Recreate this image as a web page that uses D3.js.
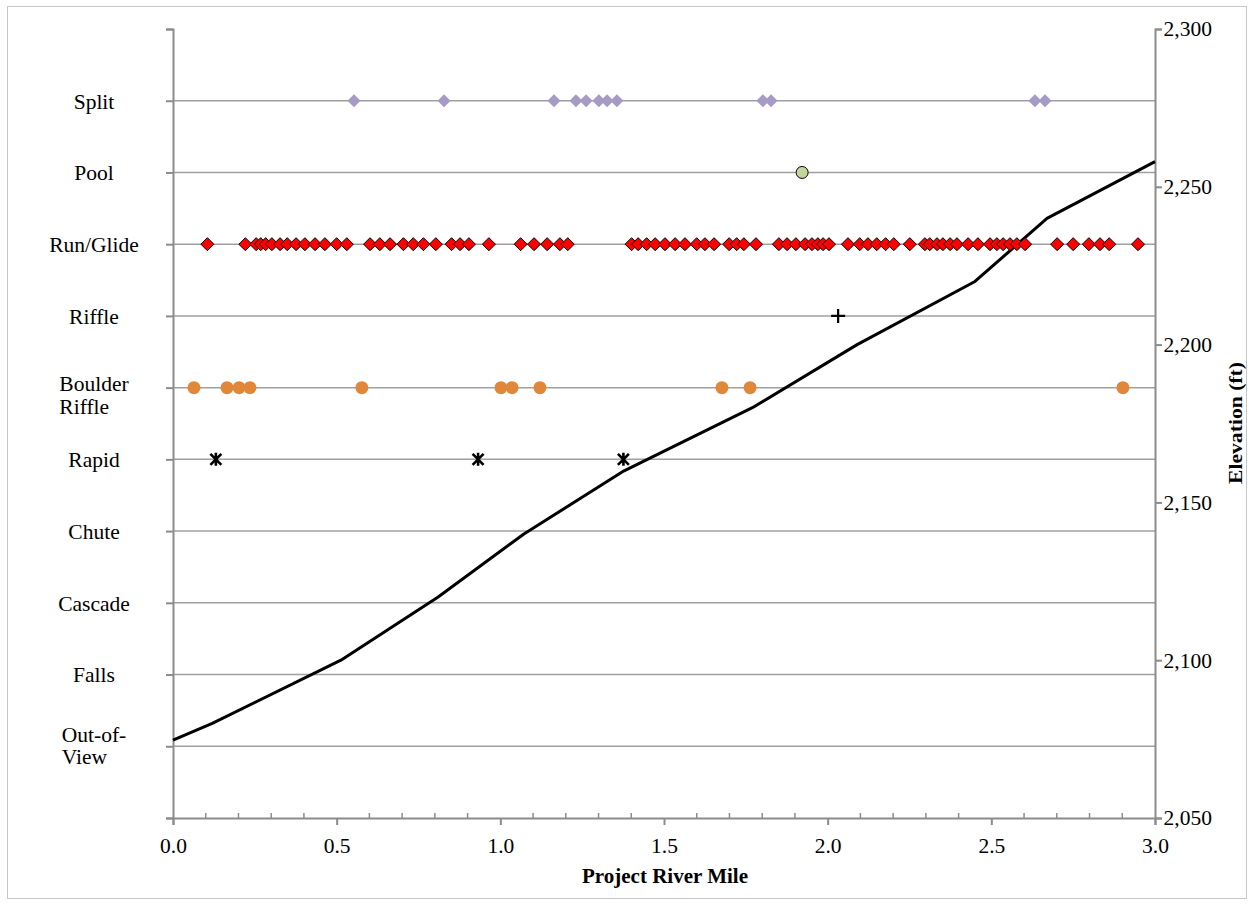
<!DOCTYPE html>
<html><head><meta charset="utf-8">
<script src="https://cdn.jsdelivr.net/npm/d3@7"></script>
<style>
body{margin:0;background:#fff;}
svg{display:block;font-family:"Liberation Serif","Times New Roman",serif;}
</style></head>
<body><svg id="c" width="1249" height="905"></svg>
<script>
// Habitat categories (left axis, bottom to top, positions 1..10)
const categories = ["Out-of-\nView","Falls","Cascade","Chute","Rapid","Boulder\nRiffle","Riffle","Run/Glide","Pool","Split"];
// River mile tick labels
const xTicks = [0,0.5,1.0,1.5,2.0,2.5,3.0];
const elevTicks = [2050,2100,2150,2200,2250,2300];

// Observations (river mile) per habitat type
const splitMiles = [0.553,0.828,1.164,1.231,1.262,1.301,1.326,1.356,1.802,1.827,2.633,2.664];
const poolMiles = [1.922];
const runGlideMiles = [0.105,0.221,0.254,0.268,0.283,0.302,0.327,0.349,0.376,0.403,0.434,0.464,0.500,0.531,
  0.602,0.632,0.663,0.704,0.734,0.765,0.803,0.851,0.877,0.904,0.965,1.062,1.103,1.143,1.182,1.206,
  1.401,1.421,1.447,1.473,1.503,1.534,1.564,1.600,1.625,1.653,1.699,1.722,1.744,1.781,
  1.851,1.876,1.903,1.931,1.952,1.970,1.986,2.004,2.062,2.098,2.123,2.150,2.177,2.202,2.251,
  2.297,2.312,2.334,2.352,2.374,2.395,2.429,2.459,2.496,2.517,2.536,2.557,2.578,2.603,
  2.701,2.750,2.798,2.832,2.860,2.948];
const riffleMiles = [2.032];
const boulderMiles = [0.064,0.165,0.202,0.235,0.577,1.002,1.036,1.121,1.677,1.763,2.902];
const rapidMiles = [0.131,0.932,1.376];

// Elevation profile
const profileMiles = [0.0,0.12,0.513,0.81,1.072,1.378,1.77,2.09,2.45,2.67,3.0];
const profileElev  = [2074.7,2080,2100,2120,2140,2160,2180,2200,2220,2240,2258];

const svg = d3.select("#c");
const L=173, R=1155, T=29, B=818;
const FS = 21.5;
const x = d3.scaleLinear().domain([0,3]).range([L,R]);
const yc = d3.scaleLinear().domain([0,11]).range([B,T]);
const ye = d3.scaleLinear().domain([2050,2300]).range([B,T]);

// outer border
svg.append("rect").attr("x",7.5).attr("y",6.5).attr("width",1239).attr("height",892)
  .attr("fill","none").attr("stroke","#c8c8c8").attr("stroke-width",1);

// gridlines
svg.append("g").selectAll("line").data(d3.range(1,11)).join("line")
  .attr("x1",L).attr("x2",R).attr("y1",d=>yc(d)).attr("y2",d=>yc(d))
  .attr("stroke","#a0a0a0").attr("stroke-width",1.5);

// left axis
const gl = svg.append("g").attr("transform",`translate(${L},0)`)
  .call(d3.axisLeft(yc).tickValues(d3.range(0,12)).tickSize(7).tickFormat(""));
gl.selectAll("path,line").attr("stroke","#8c8c8c").attr("stroke-width",2);
// category labels
categories.forEach((c,i)=>{
  const lines = c.split("\n");
  const yy = yc(i+1);
  if(lines.length===1){
    svg.append("text").attr("x",94).attr("y",yy+3).attr("text-anchor","middle")
      .attr("dominant-baseline","middle").attr("font-size",FS).attr("fill","#000").text(c);
  } else {
    const mid = yy + (i===0 ? 2 : 10);
    const t = svg.append("text").attr("font-size",FS).attr("fill","#000");
    lines.forEach((ln,k)=>t.append("tspan").attr("x",0).attr("y",mid+(k-0.5)*22.5)
      .attr("dominant-baseline","middle").text(ln));
    const w = t.node().getBBox().width;
    t.selectAll("tspan").attr("x",94-w/2);
  }
});

// bottom axis: minor ticks inside, major ticks outside
const gb = svg.append("g").attr("transform",`translate(0,${B})`)
  .call(d3.axisBottom(x).tickValues(xTicks).tickSize(7).tickPadding(13).tickFormat(d3.format(".1f")));
gb.selectAll("path,line").attr("stroke","#8c8c8c").attr("stroke-width",2);
gb.selectAll("text").attr("font-size",FS).attr("fill","#000").attr("font-family","Liberation Serif");
svg.append("g").selectAll("line").data(d3.range(1,30).filter(i=>i%5!==0).map(i=>i/10)).join("line")
  .attr("x1",d=>x(d)).attr("x2",d=>x(d)).attr("y1",B).attr("y2",B-5)
  .attr("stroke","#8c8c8c").attr("stroke-width",1.5);

// right axis
const gr = svg.append("g").attr("transform",`translate(${R},0)`)
  .call(d3.axisRight(ye).tickValues(elevTicks).tickSize(7).tickPadding(1.5).tickFormat(d3.format(",")));
gr.selectAll("path,line").attr("stroke","#8c8c8c").attr("stroke-width",2);
gr.selectAll("text").attr("font-size",FS).attr("fill","#000").attr("font-family","Liberation Serif");

// axis titles
svg.append("text").attr("x",665).attr("y",883).attr("text-anchor","middle")
  .attr("font-size",21).attr("font-weight","bold").text("Project River Mile");
svg.append("text").attr("transform","translate(1238,423) rotate(-90)").attr("text-anchor","middle")
  .attr("dominant-baseline","middle").attr("font-size",19).attr("font-weight","bold")
  .attr("font-family","'Liberation Serif'").attr("textLength",122).attr("lengthAdjust","spacingAndGlyphs")
  .text("Elevation (ft)");

// elevation line
const prof = profileMiles.map((m,i)=>[m,profileElev[i]]);
svg.append("path").datum(prof)
  .attr("d",d3.line().x(d=>x(d[0])).y(d=>ye(d[1])))
  .attr("fill","none").attr("stroke","#000").attr("stroke-width",3).attr("stroke-linejoin","round");

// markers
const diamond = s => `M0,${-s}L${s},0L0,${s}L${-s},0Z`;
// Split
svg.append("g").selectAll("path").data(splitMiles).join("path")
  .attr("transform",d=>`translate(${x(d)},${yc(10)})`).attr("d",diamond(6.5)).attr("fill","#a69bc4");
// Pool
svg.append("g").selectAll("circle").data(poolMiles).join("circle")
  .attr("cx",d=>x(d)).attr("cy",yc(9)).attr("r",6).attr("fill","#c3d69b").attr("stroke","#000").attr("stroke-width",1);
// Run/Glide
svg.append("g").selectAll("path").data(runGlideMiles).join("path")
  .attr("transform",d=>`translate(${x(d)},${yc(8)})`).attr("d",diamond(6.5)).attr("fill","#ff0000")
  .attr("stroke","#000").attr("stroke-width",1);
// Riffle (plus)
svg.append("g").selectAll("path").data(riffleMiles).join("path")
  .attr("transform",d=>`translate(${x(d)},${yc(7)})`).attr("d","M-7,0H7M0,-7V7")
  .attr("stroke","#000").attr("stroke-width",2.2);
// Boulder Riffle
svg.append("g").selectAll("circle").data(boulderMiles).join("circle")
  .attr("cx",d=>x(d)).attr("cy",yc(6)).attr("r",6.5).attr("fill","#e0873a");
// Rapid (star)
svg.append("g").selectAll("path").data(rapidMiles).join("path")
  .attr("transform",d=>`translate(${x(d)},${yc(5)})`)
  .attr("d","M-5.5,-5.5L5.5,5.5M-5.5,5.5L5.5,-5.5M0,-6.5V6.5")
  .attr("stroke","#000").attr("stroke-width",2.6);
</script></body></html>
